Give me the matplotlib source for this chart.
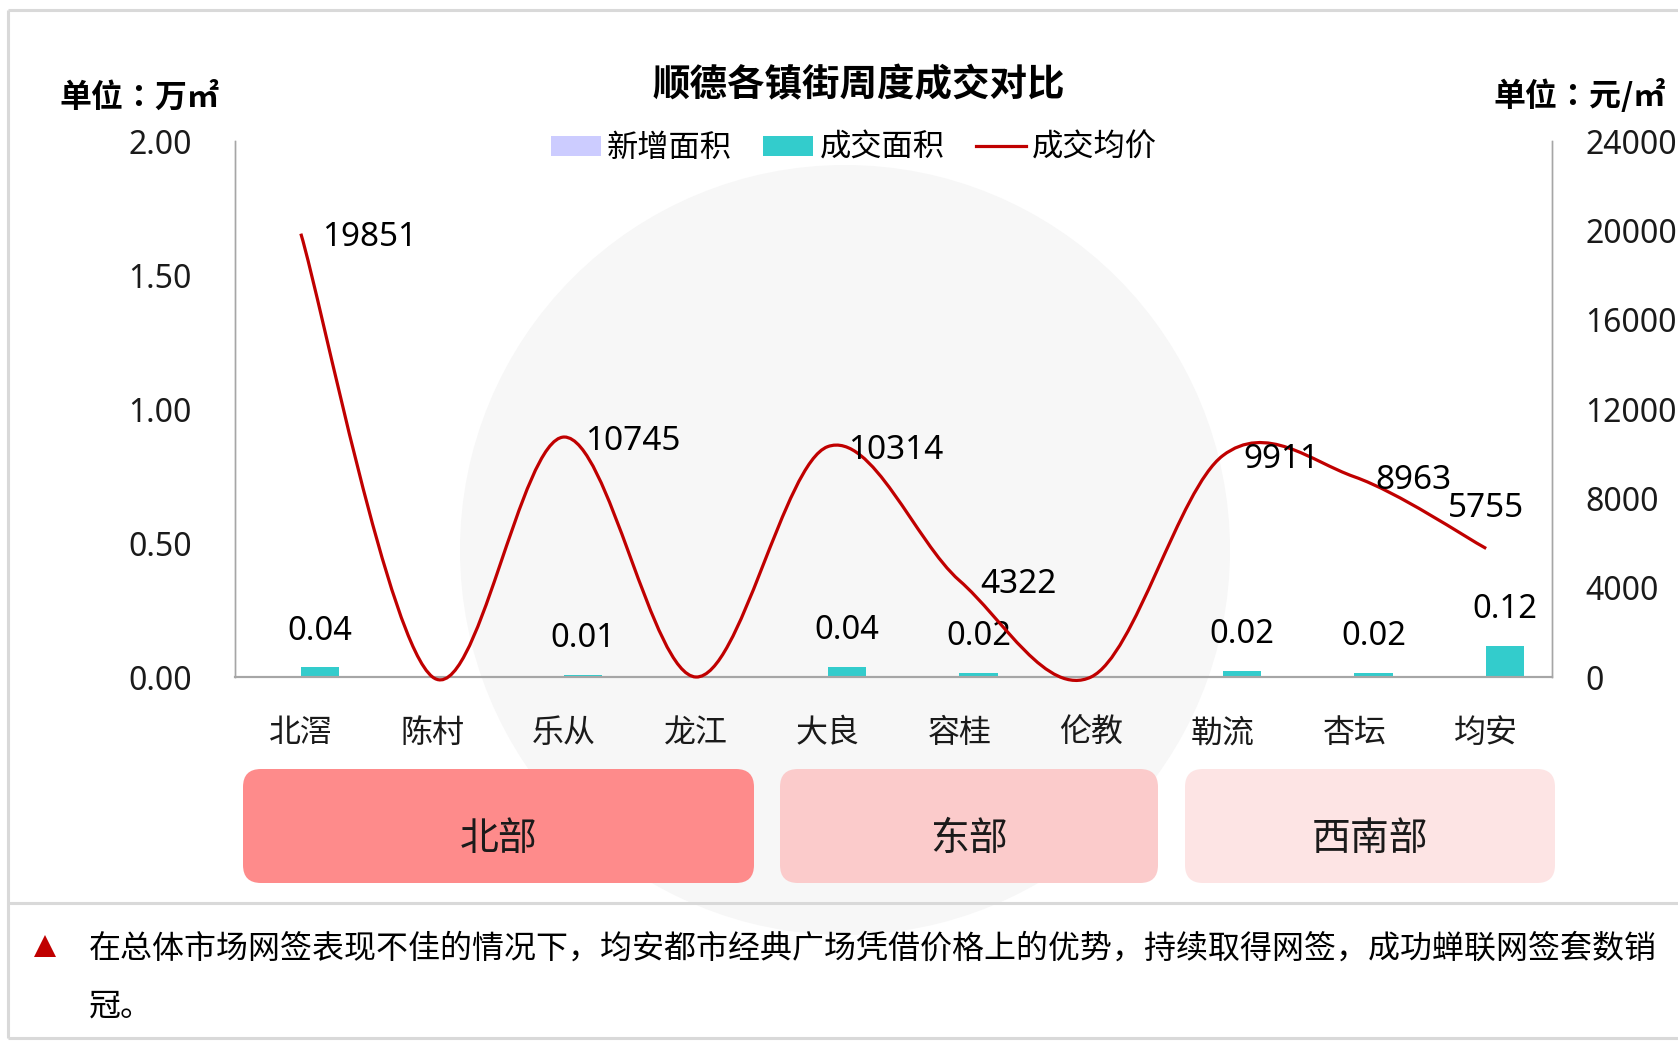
import matplotlib
matplotlib.use("Agg")
import matplotlib.pyplot as plt
from matplotlib.patches import FancyBboxPatch, Circle, Polygon, Patch
from matplotlib.lines import Line2D
from matplotlib.path import Path
from matplotlib.patches import PathPatch
from matplotlib.ticker import FormatStrFormatter

plt.rcParams['font.family'] = ['Noto Sans CJK SC', 'DejaVu Sans']
NUM_FONT = ['Noto Sans', 'DejaVu Sans']

# ---------------- data ----------------
categories = ['北滘', '陈村', '乐从', '龙江', '大良', '容桂', '伦教', '勒流', '杏坛', '均安']
new_area = [0, 0, 0, 0, 0, 0, 0, 0, 0, 0]
deal_area = [0.036, 0, 0.009, 0, 0.038, 0.016, 0, 0.022, 0.016, 0.117]
avg_price = [19851, 0, 10745, 0, 10314, 4322, 0, 9911, 8963, 5755]
price_label_pos = ['right', None, 'right', None, 'right', 'right', None, 'right', 'right', 'above']
regions = ['北部', '东部', '西南部']
left_ticks = [0, 0.5, 1.0, 1.5, 2.0]
right_ticks = [0, 4000, 8000, 12000, 16000, 20000, 24000]
title = '顺德各镇街周度成交对比'
left_unit = '单位：万㎡'
right_unit = '单位：元/㎡'
legend_labels = ['新增面积', '成交面积', '成交均价']
note_line1 = '在总体市场网签表现不佳的情况下，均安都市经典广场凭借价格上的优势，持续取得网签，成功蝉联网签套数销'
note_line2 = '冠。'

W, H = 1678, 1043
fig = plt.figure(figsize=(W / 100, H / 100), dpi=100)
fig.patch.set_facecolor('white')

# background / decoration axes in pixel coordinates
bg = fig.add_axes([0, 0, 1, 1], zorder=0)
bg.set_xlim(0, W)
bg.set_ylim(H, 0)
bg.axis('off')

# watermark
bg.add_patch(Circle((845, 550), 385, facecolor='#F7F7F7', edgecolor='none', zorder=0))

# frames
gray = '#D9D9D9'
bg.plot([8, W], [10, 10], color=gray, lw=2.2, solid_capstyle='butt')
bg.plot([8, 8], [10, 1038], color=gray, lw=2.2, solid_capstyle='butt')
bg.plot([8, W], [903, 903], color=gray, lw=2.2, solid_capstyle='butt')
bg.plot([8, W], [1038, 1038], color=gray, lw=2.2, solid_capstyle='butt')

# region boxes
box_specs = [(243, 754, '#FE8B8B'), (780, 1158, '#FBCBCB'), (1185, 1555, '#FDE4E4')]
for (x0, x1, col), name in zip(box_specs, regions):
    bg.add_patch(FancyBboxPatch((x0, 769), x1 - x0, 114,
                                boxstyle='round,pad=0,rounding_size=18',
                                facecolor=col, edgecolor='none', zorder=2))
    bg.text((x0 + x1) / 2, 839, name, ha='center', va='center', fontsize=28,
            color='#1a1a1a', zorder=3)

# title and units
bg.text(859, 85, title, ha='center', va='center', fontsize=27, fontweight='bold', color='#000000')
bg.text(59, 98, left_unit, ha='left', va='center', fontsize=23, fontweight='bold', color='#000000',
        family=['Noto Sans CJK TC', 'DejaVu Sans'])
bg.text(1493, 96, right_unit, ha='left', va='center', fontsize=23, fontweight='bold', color='#000000',
        family=['Noto Sans CJK TC', 'DejaVu Sans'])

# note
bg.add_patch(Polygon([(34, 957), (56, 957), (45, 935)], closed=True, facecolor='#C00000', edgecolor='none'))
bg.text(89, 949, note_line1, ha='left', va='center', fontsize=23, color='#000000')
bg.text(89, 1007, note_line2, ha='left', va='center', fontsize=23, color='#000000')

# ---------------- main chart ----------------
ax = fig.add_axes([235 / W, 366 / H, 1317 / W, 536 / H], zorder=2)
ax.patch.set_visible(False)
ax2 = ax.twinx()
ax2.set_zorder(3)
ax2.patch.set_visible(False)

n = len(categories)
x = list(range(n))
bw = 0.29
ax.bar([i - bw / 2 for i in x], new_area, width=bw, color='#CCCCFF', zorder=2)
ax.bar([i + bw / 2 for i in x], deal_area, width=bw, color='#33CCCC', zorder=2)
for i, v in enumerate(deal_area):
    if v > 0:
        ax.annotate(f'{v:.2f}', (i + bw / 2, v), xytext=(0, 26), textcoords='offset points',
                    ha='center', va='center', fontsize=23.5, color='#000000', family=NUM_FONT)

ax.set_xlim(-0.5, n - 0.5)
ax.set_ylim(0, 2.0)
ax.set_yticks(left_ticks)
ax.yaxis.set_major_formatter(FormatStrFormatter('%.2f'))
ax.set_xticks(x)
ax.set_xticklabels(categories)
ax.tick_params(axis='x', length=0, labelsize=23, pad=29, colors='#1a1a1a')
ax.tick_params(axis='y', length=0, labelsize=23, pad=31, colors='#1a1a1a')
for lab in ax.get_yticklabels():
    lab.set_family(NUM_FONT)

ax2.set_ylim(0, 24000)
ax2.set_yticks(right_ticks)
ax2.yaxis.set_major_formatter(FormatStrFormatter('%d'))
ax2.tick_params(axis='y', length=0, labelsize=23, pad=24, colors='#1a1a1a')
for lab in ax2.get_yticklabels():
    lab.set_family(NUM_FONT)

for a in (ax, ax2):
    a.spines['top'].set_visible(False)
    a.spines['left'].set_color('#A6A6A6')
    a.spines['right'].set_color('#A6A6A6')
    a.spines['left'].set_linewidth(1.0)
    a.spines['right'].set_linewidth(1.0)
    a.spines['bottom'].set_color('#A6A6A6')
    a.spines['bottom'].set_linewidth(1.5)

# smoothed price line (Catmull-Rom style Bezier like Excel smoothing)
pts = list(zip(x, avg_price))
verts = [pts[0]]
codes = [Path.MOVETO]
for i in range(n - 1):
    p0 = pts[i - 1] if i > 0 else pts[i]
    p1 = pts[i]
    p2 = pts[i + 1]
    p3 = pts[i + 2] if i + 2 < n else pts[i + 1]
    c1 = (p1[0] + (p2[0] - p0[0]) / 6, p1[1] + (p2[1] - p0[1]) / 6)
    c2 = (p2[0] - (p3[0] - p1[0]) / 6, p2[1] - (p3[1] - p1[1]) / 6)
    verts += [c1, c2, p2]
    codes += [Path.CURVE4] * 3
ax2.add_patch(PathPatch(Path(verts, codes), facecolor='none', edgecolor='#C00000',
                        lw=2.3, clip_on=False, zorder=4))

for i, (v, pos) in enumerate(zip(avg_price, price_label_pos)):
    if pos == 'right':
        ax2.annotate(f'{v}', (i, v), xytext=(15, -3), textcoords='offset points',
                     ha='left', va='center', fontsize=24, color='#000000', zorder=5,
                     family=NUM_FONT)
    elif pos == 'above':
        ax2.annotate(f'{v}', (i, v), xytext=(0, 29), textcoords='offset points',
                     ha='center', va='center', fontsize=24, color='#000000', zorder=5,
                     family=NUM_FONT)

# legend
handles = [Patch(facecolor='#CCCCFF', edgecolor='none'),
           Patch(facecolor='#33CCCC', edgecolor='none'),
           Line2D([0], [0], color='#C00000', lw=2.3)]
fig.legend(handles, legend_labels, loc='center', bbox_to_anchor=(854 / W, 1 - 148 / H),
           ncol=3, frameon=False, fontsize=22.5, handlelength=1.6, handleheight=0.65,
           handletextpad=0.2, columnspacing=1.0, borderaxespad=0)

fig.savefig('out.png', dpi=100, facecolor='white')
